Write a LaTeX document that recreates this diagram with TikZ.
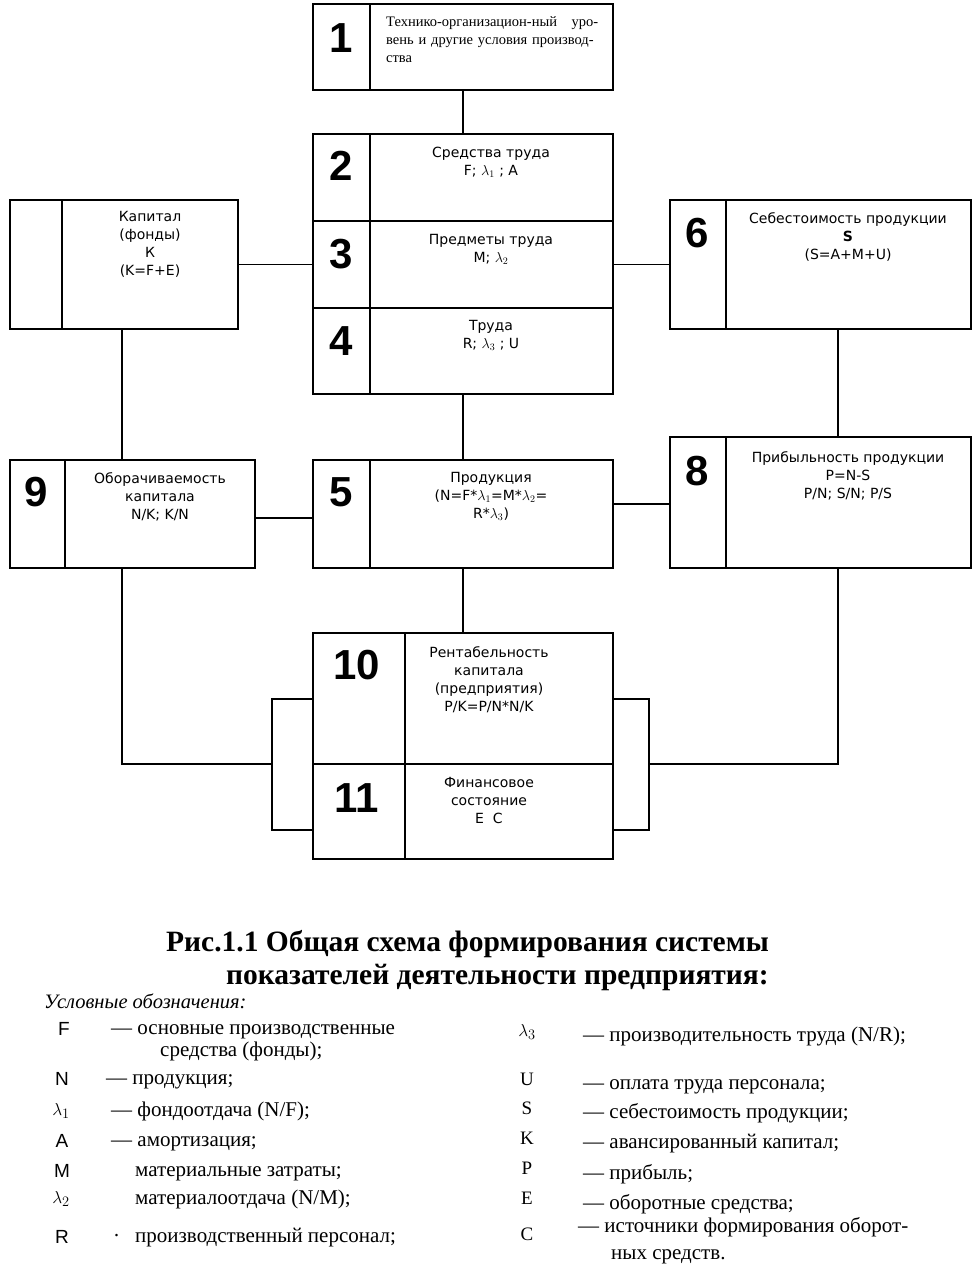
\documentclass[tikz,border=0pt]{standalone}
\usepackage{fontspec}
\setmainfont{Liberation Serif}
\newfontfamily\boxfont{DejaVu Sans}
\newfontfamily\numfont{Liberation Sans}
\usetikzlibrary{calc}

\tikzset{
	box/.style={draw, line width=1.8pt, rectangle, anchor=north west, inner sep=0pt},
	divide/.style={line width=1.6pt},
	link/.style={line width=1.4pt},
	num/.style={font=\numfont\bfseries\fontsize{42}{42}\selectfont, inner sep=0pt},
	txt/.style={font=\boxfont\fontsize{14}{18}\selectfont, align=center, anchor=north, inner sep=0pt},
	legsym/.style={font=\numfont\fontsize{19}{19}\selectfont, anchor=base, inner sep=0pt},
	legser/.style={font=\fontsize{19}{19}\selectfont, anchor=base, inner sep=0pt},
	legtxt/.style={font=\fontsize{21}{24}\selectfont, anchor=base west, inner sep=0pt},
}

\begin{document}
\begin{tikzpicture}[x=1pt, y=-1pt]
	\useasboundingbox (0,0) rectangle (978,1264);
	
	% boxes
	\node[box, minimum width=300pt, minimum height=86pt]  (b1)  at (312,3)   {};
	\node[box, minimum width=300pt, minimum height=87pt]  (b2)  at (312,133) {};
	\node[box, minimum width=300pt, minimum height=87pt]  (b3)  at (312,220) {};
	\node[box, minimum width=300pt, minimum height=86pt]  (b4)  at (312,307) {};
	\node[box, minimum width=228pt, minimum height=129pt] (b7)  at (9,199)   {};
	\node[box, minimum width=301pt, minimum height=129pt] (b6)  at (669,199) {};
	\node[box, minimum width=245pt, minimum height=108pt] (b9)  at (9,459)   {};
	\node[box, minimum width=300pt, minimum height=108pt] (b5)  at (312,459) {};
	\node[box, minimum width=301pt, minimum height=131pt] (b8)  at (669,436) {};
	\node[box, minimum width=300pt, minimum height=131pt] (b10) at (312,632) {};
	\node[box, minimum width=300pt, minimum height=95pt]  (b11) at (312,763) {};
	
	% number cells
	\draw[divide] ([xshift=58pt]b1.north west) -- ([xshift=58pt]b1.south west);
	\draw[divide] ([xshift=58pt]b2.north west) -- ([xshift=58pt]b4.south west);
	\draw[divide] ([xshift=53pt]b7.north west) -- ([xshift=53pt]b7.south west);
	\draw[divide] ([xshift=57pt]b6.north west) -- ([xshift=57pt]b6.south west);
	\draw[divide] ([xshift=56pt]b9.north west) -- ([xshift=56pt]b9.south west);
	\draw[divide] ([xshift=58pt]b5.north west) -- ([xshift=58pt]b5.south west);
	\draw[divide] ([xshift=57pt]b8.north west) -- ([xshift=57pt]b8.south west);
	\draw[divide] ([xshift=93pt]b10.north west) -- ([xshift=93pt]b11.south west);
	
	\node[num] (n1)  at (341,38)  {1};
	\node[num] (n2)  at (341,166) {2};
	\node[num] (n3)  at (341,254) {3};
	\node[num] (n4)  at (341,341) {4};
	\node[num] (n6)  at (697,233) {6};
	\node[num] (n9)  at (36,492)  {9};
	\node[num] (n5)  at (341,492) {5};
	\node[num] (n8)  at (697,471) {8};
	\node[num] (n10) at (357,665) {10};
	\node[num] (n11) at (357,798) {11};
	
	% box texts
	\node[anchor=north west, inner sep=0pt, text width=212pt, align=left,
	      font=\fontsize{14.5}{18}\selectfont] (t1) at (386,16)
	      {Технико-организацион-ный\hfill уро-\\вень и другие условия производ-\\ства};
	\node[txt] (t2)  at (491,147) {Средства труда\\F; $\lambda_1$ ; A};
	\node[txt] (t3)  at (491,234) {Предметы труда\\M; $\lambda_2$};
	\node[txt] (t4)  at (491,320) {Труда\\R; $\lambda_3$ ; U};
	\node[txt] (t7)  at (150,211) {Капитал\\(фонды)\\К\\(K=F+E)};
	\node[txt] (t6)  at (848,212) {Себестоимость продукции\\\textbf{S}\\(S=A+M+U)};
	\node[txt] (t9)  at (160,472) {Оборачиваемость\\капитала\\N/K; K/N};
	\node[txt] (t5)  at (491,472) {Продукция\\(N=F*$\lambda_1$=M*$\lambda_2$=\\R*$\lambda_3$)};
	\node[txt] (t8)  at (848,451) {Прибыльность продукции\\P=N-S\\P/N; S/N; P/S};
	\node[txt] (t10) at (489,646) {Рентабельность\\капитала\\(предприятия)\\P/K=P/N*N/K};
	\node[txt] (t11) at (489,777) {Финансовое\\состояние\\E~~C};
	
	% connectors
	\coordinate (c6) at (838,328);
	\coordinate (c8) at (838,436);
	\coordinate (d7) at (122,328);
	\coordinate (d9) at (122,567);
	\coordinate (d8) at (838,567);
	\coordinate (h9) at (254,518);
	\coordinate (h8) at (669,504);
	\coordinate (la) at (272,699);
	\coordinate (lm) at (272,764);
	\coordinate (lb) at (272,830);
	\coordinate (ra) at (649,699);
	\coordinate (rm) at (649,764);
	\coordinate (rb) at (649,830);
	
	\draw[link] (b1.south) -- (b2.north);
	\draw[link] (b7.east) -- (b3.west);
	\draw[link] (b3.east) -- (b6.west);
	\draw[link] (c6) -- (c8);
	\draw[link] (d7) -- (d7 |- b9.north);
	\draw[link] (b4.south) -- (b5.north);
	\draw[link] (h9) -- (h9 -| b5.west);
	\draw[link] (h8 -| b5.east) -- (h8);
	\draw[link] (b5.south) -- (b10.north);
	\draw[link] (d9) |- (lm);
	\draw[link] (d8) |- (rm);
	\draw[link] (b10.west |- la) -- (la) -- (lb) -- (b11.west |- lb);
	\draw[link] (b10.east |- ra) -- (ra) -- (rb) -- (b11.east |- rb);
	
	% caption
	\node[anchor=base west, inner sep=0pt, font=\bfseries\fontsize{29.5}{30}\selectfont] (cap1) at (166,951)
	      {Рис.1.1 Общая схема формирования системы};
	\node[anchor=base west, inner sep=0pt, font=\bfseries\fontsize{29.5}{30}\selectfont] (cap2) at (226,984)
	      {показателей деятельности предприятия:};
	\node[anchor=base west, inner sep=0pt, font=\itshape\fontsize{20.5}{21}\selectfont] (leg) at (44,1008)
	      {Условные обозначения:};
	
	% legend, left column
	\node[legsym] (sF)  at (64,1035)  {F};
	\node[legsym] (sN)  at (62,1085)  {N};
	\node[legser] (sl1) at (61,1115)  {$\lambda_1$};
	\node[legsym] (sA)  at (62,1147)  {A};
	\node[legsym] (sM)  at (62,1177)  {M};
	\node[legser] (sl2) at (61,1203)  {$\lambda_2$};
	\node[legsym] (sR)  at (62,1243)  {R};
	
	\node[legtxt] (tF)  at (111,1034) {— основные производственные};
	\node[legtxt] (tF2) at (160,1056) {средства (фонды);};
	\node[legtxt] (tN)  at (106,1084) {— продукция;};
	\node[legtxt] (tl1) at (111,1116) {— фондоотдача (N/F);};
	\node[legtxt] (tA)  at (111,1146) {— амортизация;};
	\node[legtxt] (tM)  at (135,1176) {материальные затраты;};
	\node[legtxt] (tl2) at (135,1204) {материалоотдача (N/M);};
	\node[legtxt] (tRd) at (113,1242) {·};
	\node[legtxt] (tR)  at (135,1242) {производственный персонал;};
	
	% legend, right column
	\node[legser] (sl3) at (527,1036) {$\lambda_3$};
	\node[legser] (sU)  at (527,1085) {U};
	\node[legser] (sS)  at (527,1114) {S};
	\node[legser] (sK)  at (527,1144) {K};
	\node[legser] (sP)  at (527,1174) {P};
	\node[legser] (sE)  at (527,1204) {E};
	\node[legser] (sC)  at (527,1240) {C};
	
	\node[legtxt] (tl3) at (583,1041) {— производительность труда (N/R);};
	\node[legtxt] (tU)  at (583,1089) {— оплата труда персонала;};
	\node[legtxt] (tS)  at (583,1118) {— себестоимость продукции;};
	\node[legtxt] (tK)  at (583,1148) {— авансированный капитал;};
	\node[legtxt] (tP)  at (583,1179) {— прибыль;};
	\node[legtxt] (tE)  at (583,1209) {— оборотные средства;};
	\node[legtxt] (tC)  at (578,1232) {— источники формирования оборот-};
	\node[legtxt] (tC2) at (611,1259) {ных средств.};
\end{tikzpicture}
\end{document}
